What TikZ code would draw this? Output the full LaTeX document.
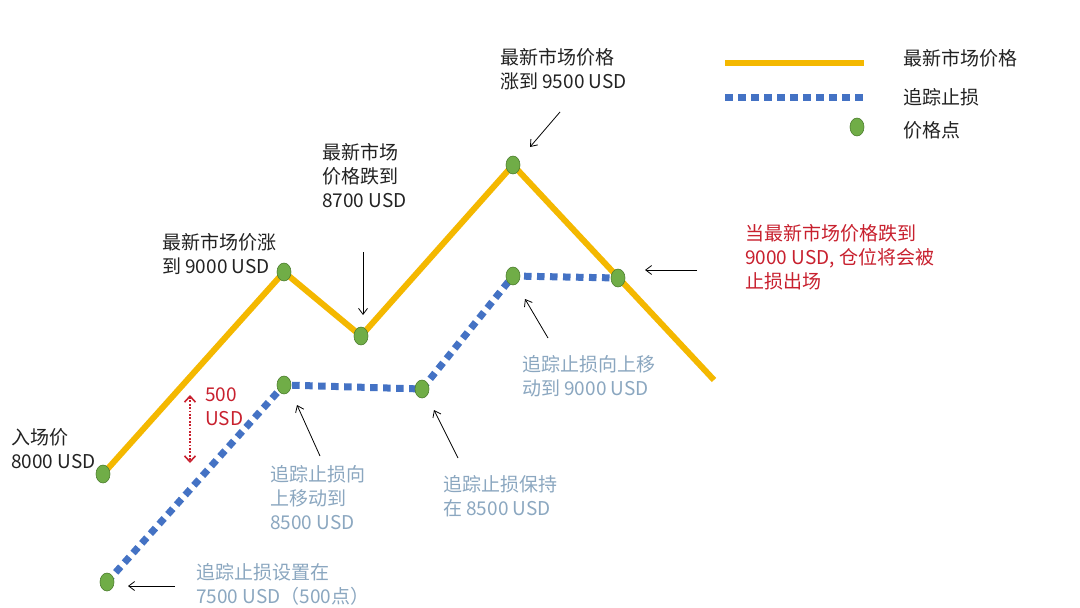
\documentclass[tikz,border=0pt]{standalone}
\usepackage{fontspec}
\setmainfont{Noto Sans CJK SC}
\usetikzlibrary{arrows.meta,shapes.geometric}
\definecolor{gold}{HTML}{F4B800}
\definecolor{tsblue}{HTML}{4472C4}
\definecolor{dotgreen}{HTML}{70AD47}
\definecolor{dotedge}{HTML}{4E7F30}
\definecolor{labgray}{HTML}{222222}
\definecolor{labblue}{HTML}{8BA7C0}
\definecolor{labred}{HTML}{C8202E}
\tikzset{
  priceline/.style={gold, line width=6pt, line join=miter},
  stopline/.style={tsblue, line width=7pt, line cap=butt, dash pattern=on 7.5pt off 5.5pt},
  pt/.style={ellipse, fill=dotgreen, draw=dotedge, line width=0.6pt, minimum width=14pt, minimum height=18pt, inner sep=0pt},
  lab/.style={anchor=north west, inner sep=0pt, align=left, font=\fontsize{19}{24}\selectfont, text=labgray},
  bluelab/.style={lab, text=labblue},
  redlab/.style={lab, text=labred},
  arr/.style={black, line width=0.8pt, -{Straight Barb[length=6pt,width=9pt]}},
}
\begin{document}
\begin{tikzpicture}[x=1pt,y=-1pt]
\useasboundingbox (0,0) rectangle (1080,608);
\fill[white] (0,0) rectangle (1080,608);
% price path coordinates
\coordinate (p0) at (103,474);
\coordinate (p1) at (284,272);
\coordinate (p2) at (361,336);
\coordinate (p3) at (513,165);
\coordinate (p4) at (618,278);
\coordinate (p5) at (714,380);
\coordinate (s0) at (107,582);
\coordinate (s1) at (284,385);
\coordinate (s2) at (422,389);
\coordinate (s3) at (513,276);
% lines
\draw[priceline] (p0) -- (p1) -- (p2) -- (p3) -- (p5);
\draw[stopline] (s0) -- (s1) -- (s2) -- (s3) -- (p4);
% dots
\foreach \n in {p0,p1,p2,p3,p4,s0,s1,s2,s3} \node[pt] (d\n) at (\n) {};
% legend
\coordinate (lg1a) at (725,63); \coordinate (lg1b) at (864,63);
\coordinate (lg2a) at (725,97); \coordinate (lg2b) at (864,97);
\draw[priceline] (lg1a) -- (lg1b);
\draw[stopline] (lg2a) -- (lg2b);
\node[pt] (lgdot) at (857,127) {};
\node[lab] (lt1) at (903,49) {最新市场价格};
\node[lab] (lt2) at (903,88) {追踪止损};
\node[lab] (lt3) at (903,121) {价格点};
% labels
\node[lab] (entry) at (11,428) {入场价\\8000 USD};
\node[redlab] (gap) at (205,388) {500\\USD};
\node[lab] (up9000) at (162,233) {最新市场价涨\\到 9000 USD};
\node[lab] (down8700) at (322,143) {最新市场\\价格跌到\\8700 USD};
\node[lab] (up9500) at (500,48) {最新市场价格\\涨到 9500 USD};
\node[redlab] (exit) at (745,224) {当最新市场价格跌到\\9000 USD, 仓位将会被\\止损出场};
\node[bluelab] (ts9000) at (522,355) {追踪止损向上移\\动到 9000 USD};
\node[bluelab] (ts8500) at (270,465) {追踪止损向\\上移动到\\8500 USD};
\node[bluelab] (tshold) at (443,475) {追踪止损保持\\在 8500 USD};
\node[bluelab] (ts7500) at (196,563) {追踪止损设置在\\7500 USD（500点）};
% arrows
\coordinate (a1s) at (363,252); \coordinate (a1e) at (363,315);
\coordinate (a2s) at (560,112); \coordinate (a2e) at (530,147);
\coordinate (a3s) at (697,270); \coordinate (a3e) at (645,270);
\coordinate (a4s) at (548,338); \coordinate (a4e) at (525,299);
\coordinate (a5s) at (320,456); \coordinate (a5e) at (297,405);
\coordinate (a6s) at (458,458); \coordinate (a6e) at (434,410);
\coordinate (a7s) at (175,586); \coordinate (a7e) at (128,586);
\foreach \i in {1,...,7} \draw[arr] (a\i s) -- (a\i e);
% 500 USD gap arrow
\coordinate (g1) at (190,395); \coordinate (g2) at (190,463);
\draw[labred, line width=1.8pt, dash pattern=on 1.8pt off 1.6pt, {Straight Barb[length=6pt,width=11pt,line width=1.6pt]}-{Straight Barb[length=6pt,width=11pt,line width=1.6pt]}] (g1) -- (g2);
\end{tikzpicture}
\end{document}
